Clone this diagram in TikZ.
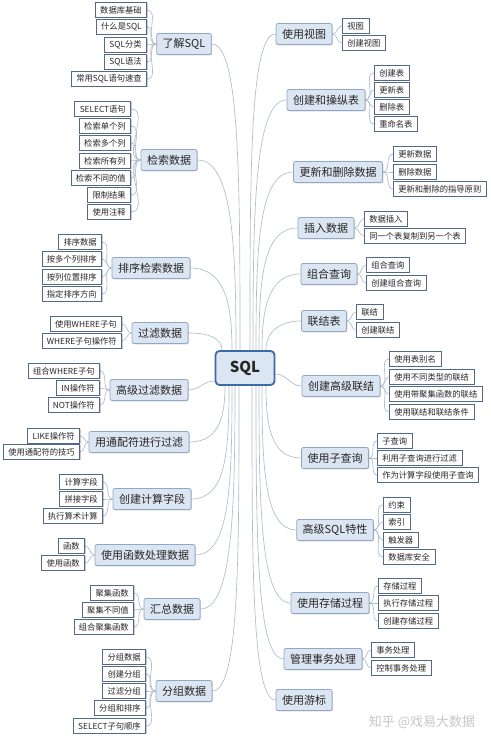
\documentclass[tikz,border=0pt]{standalone}
\usepackage{fontspec}
\setmainfont{Noto Sans CJK SC}
\usetikzlibrary{shadows,backgrounds}
\definecolor{leafdraw}{HTML}{52698A}
\definecolor{mainfill}{HTML}{DCE6F2}
\definecolor{maindraw}{HTML}{8FA8C8}
\definecolor{sqldraw}{HTML}{3D6AA3}
\definecolor{conncol}{HTML}{B0BCCA}
\definecolor{txt}{HTML}{262626}
\tikzset{
  leaf/.style={draw=leafdraw, fill=white, line width=0.6pt, font=\fontsize{8.3}{9}\selectfont,
    text=txt, inner xsep=5pt, inner ysep=0pt, minimum height=15pt,
    drop shadow={shadow xshift=0.8pt, shadow yshift=-0.8pt, opacity=0.2, fill=black}},
  leafL/.style={leaf, anchor=east},
  leafR/.style={leaf, anchor=west},
  mainbox/.style={draw=maindraw, fill=mainfill, line width=0.8pt, rounded corners=2pt,
    font=\fontsize{11}{12}\selectfont, text=txt, inner xsep=6pt, inner ysep=0pt, minimum height=21pt,
    drop shadow={shadow xshift=0.8pt, shadow yshift=-0.8pt, opacity=0.2, fill=black}},
  sqlbox/.style={draw=sqldraw, fill=mainfill, line width=1.8pt, rounded corners=4pt,
    font=\fontsize{15}{16}\selectfont\bfseries, text=txt, minimum width=59pt, minimum height=34pt,
    inner sep=0pt},
  conn/.style={draw=conncol, line width=0.65pt},
  wmark/.style={text=black!22, font=\fontsize{13}{14}\selectfont}
}
\begin{document}
\begin{tikzpicture}[x=1pt,y=1pt]
\useasboundingbox (0,0) rectangle (490,736);

% ---------- central node ----------
\node[sqlbox] (sql) at (245,368) {SQL};

% ---------- left main nodes ----------
\node[mainbox] (a) at (184,692) {了解SQL};
\node[mainbox] (b) at (169,576) {检索数据};
\node[mainbox] (c) at (151,468) {排序检索数据};
\node[mainbox] (d) at (160,403) {过滤数据};
\node[mainbox] (e) at (149,346) {高级过滤数据};
\node[mainbox] (f) at (139,294) {用通配符进行过滤};
\node[mainbox] (g) at (152,237) {创建计算字段};
\node[mainbox] (h) at (145,181) {使用函数处理数据};
\node[mainbox] (i) at (172,127) {汇总数据};
\node[mainbox] (j) at (184,45) {分组数据};

% ---------- right main nodes ----------
\node[mainbox] (k) at (304,702) {使用视图};
\node[mainbox] (l) at (326,636) {创建和操纵表};
\node[mainbox] (m) at (338,564) {更新和删除数据};
\node[mainbox] (n) at (326,508) {插入数据};
\node[mainbox] (o) at (329,462) {组合查询};
\node[mainbox] (p) at (324,415) {联结表};
\node[mainbox] (q) at (341,350) {创建高级联结};
\node[mainbox] (r) at (335,278) {使用子查询};
\node[mainbox] (s) at (335,206) {高级SQL特性};
\node[mainbox] (t) at (330,133) {使用存储过程};
\node[mainbox] (u) at (323,77) {管理事务处理};
\node[mainbox] (v) at (304,36) {使用游标};

% ---------- left leaves ----------
\node[leafL] (a1) at (147,726) {数据库基础};
\node[leafL] (a2) at (147,709) {什么是SQL};
\node[leafL] (a3) at (147,691) {SQL分类};
\node[leafL] (a4) at (147,674) {SQL语法};
\node[leafL] (a5) at (147,657) {常用SQL语句速查};

\node[leafL] (b1) at (131,627) {SELECT语句};
\node[leafL] (b2) at (131,610) {检索单个列};
\node[leafL] (b3) at (131,593) {检索多个列};
\node[leafL] (b4) at (131,575) {检索所有列};
\node[leafL] (b5) at (131,558) {检索不同的值};
\node[leafL] (b6) at (131,541) {限制结果};
\node[leafL] (b7) at (131,524) {使用注释};

\node[leafL] (c1) at (102,494) {排序数据};
\node[leafL] (c2) at (102,477) {按多个列排序};
\node[leafL] (c3) at (102,459) {按列位置排序};
\node[leafL] (c4) at (102,442) {指定排序方向};

\node[leafL] (d1) at (122,412) {使用WHERE子句};
\node[leafL] (d2) at (122,395) {WHERE子句操作符};

\node[leafL] (e1) at (100,365) {组合WHERE子句};
\node[leafL] (e2) at (100,348) {IN操作符};
\node[leafL] (e3) at (100,331) {NOT操作符};

\node[leafL] (f1) at (80,300) {LIKE操作符};
\node[leafL] (f2) at (80,284) {使用通配符的技巧};

\node[leafL] (g1) at (103,254) {计算字段};
\node[leafL] (g2) at (103,237) {拼接字段};
\node[leafL] (g3) at (103,220) {执行算术计算};

\node[leafL] (h1) at (85,190) {函数};
\node[leafL] (h2) at (85,173) {使用函数};

\node[leafL] (i1) at (134,143) {聚集函数};
\node[leafL] (i2) at (134,126) {聚集不同值};
\node[leafL] (i3) at (134,109) {组合聚集函数};

\node[leafL] (j1) at (146,79) {分组数据};
\node[leafL] (j2) at (146,62) {创建分组};
\node[leafL] (j3) at (146,45) {过滤分组};
\node[leafL] (j4) at (146,28) {分组和排序};
\node[leafL] (j5) at (146,10) {SELECT子句顺序};

% ---------- right leaves ----------
\node[leafR] (k1) at (342,710) {视图};
\node[leafR] (k2) at (342,693) {创建视图};

\node[leafR] (l1) at (374,663) {创建表};
\node[leafR] (l2) at (374,646) {更新表};
\node[leafR] (l3) at (374,629) {删除表};
\node[leafR] (l4) at (374,612) {重命名表};

\node[leafR] (m1) at (393,582) {更新数据};
\node[leafR] (m2) at (393,564) {删除数据};
\node[leafR] (m3) at (393,547) {更新和删除的指导原则};

\node[leafR] (n1) at (364,517) {数据插入};
\node[leafR] (n2) at (364,500) {同一个表复制到另一个表};

\node[leafR] (o1) at (366,471) {组合查询};
\node[leafR] (o2) at (366,453) {创建组合查询};

\node[leafR] (p1) at (356,424) {联结};
\node[leafR] (p2) at (356,406) {创建联结};

\node[leafR] (q1) at (389,377) {使用表别名};
\node[leafR] (q2) at (389,359) {使用不同类型的联结};
\node[leafR] (q3) at (389,342) {使用带聚集函数的联结};
\node[leafR] (q4) at (389,324) {使用联结和联结条件};

\node[leafR] (r1) at (377,295) {子查询};
\node[leafR] (r2) at (377,278) {利用子查询进行过滤};
\node[leafR] (r3) at (377,261) {作为计算字段使用子查询};

\node[leafR] (s1) at (383,231) {约束};
\node[leafR] (s2) at (383,214) {索引};
\node[leafR] (s3) at (383,196) {触发器};
\node[leafR] (s4) at (383,179) {数据库安全};

\node[leafR] (t1) at (378,150) {存储过程};
\node[leafR] (t2) at (378,133) {执行存储过程};
\node[leafR] (t3) at (378,115) {创建存储过程};

\node[leafR] (u1) at (371,86) {事务处理};
\node[leafR] (u2) at (371,68) {控制事务处理};

% ---------- watermark ----------
\node[wmark] (wm) at (422,14) {知乎 @戏易大数据};

\begin{scope}[on background layer]
\fill[white] (0,0) rectangle (490,736);
% ---------- connectors: center to main ----------
\draw[conn] ([xshift=-5pt]sql.north) to[out=90,in=0,out distance=170pt,in distance=28pt] (a.east);
\draw[conn] ([xshift=-9pt]sql.north) to[out=90,in=0,out distance=105pt,in distance=35pt] (b.east);
\draw[conn] ([xshift=-13pt]sql.north) to[out=90,in=0,out distance=45pt,in distance=35pt] (c.east);
\draw[conn] ([xshift=-23pt]sql.north) to[out=90,in=0,out distance=12pt,in distance=20pt] (d.east);
\draw[conn] (e.east) to[out=0,in=180] ([yshift=-13pt]sql.west);
\draw[conn] ([xshift=-20pt]sql.south) to[out=-90,in=0,out distance=30pt,in distance=30pt] (f.east);
\draw[conn] ([xshift=-16pt]sql.south) to[out=-90,in=0,out distance=65pt,in distance=35pt] (g.east);
\draw[conn] ([xshift=-13pt]sql.south) to[out=-90,in=0,out distance=95pt,in distance=35pt] (h.east);
\draw[conn] ([xshift=-10pt]sql.south) to[out=-90,in=0,out distance=125pt,in distance=32pt] (i.east);
\draw[conn] ([xshift=-6pt]sql.south) to[out=-90,in=0,out distance=170pt,in distance=27pt] (j.east);

\draw[conn] ([xshift=5pt]sql.north) to[out=90,in=180,out distance=175pt,in distance=26pt] (k.west);
\draw[conn] ([xshift=8pt]sql.north) to[out=90,in=180,out distance=140pt,in distance=32pt] (l.west);
\draw[conn] ([xshift=11pt]sql.north) to[out=90,in=180,out distance=100pt,in distance=35pt] (m.west);
\draw[conn] ([xshift=14pt]sql.north) to[out=90,in=180,out distance=70pt,in distance=35pt] (n.west);
\draw[conn] ([xshift=17pt]sql.north) to[out=90,in=180,out distance=42pt,in distance=32pt] (o.west);
\draw[conn] ([xshift=21pt]sql.north) to[out=90,in=180,out distance=18pt,in distance=22pt] (p.west);
\draw[conn] ([yshift=-6pt]sql.east) to[out=0,in=180] (q.west);
\draw[conn] ([xshift=21pt]sql.south) to[out=-90,in=180,out distance=40pt,in distance=30pt] (r.west);
\draw[conn] ([xshift=17pt]sql.south) to[out=-90,in=180,out distance=80pt,in distance=32pt] (s.west);
\draw[conn] ([xshift=14pt]sql.south) to[out=-90,in=180,out distance=120pt,in distance=30pt] (t.west);
\draw[conn] ([xshift=11pt]sql.south) to[out=-90,in=180,out distance=150pt,in distance=27pt] (u.west);
\draw[conn] ([xshift=7pt]sql.south) to[out=-90,in=180,out distance=175pt,in distance=24pt] (v.west);

% ---------- connectors: main to leaves ----------
\foreach \i in {1,...,5} \draw[conn] (a.west) to[out=180,in=0] (a\i.east);
\foreach \i in {1,...,7} \draw[conn] (b.west) to[out=180,in=0] (b\i.east);
\foreach \i in {1,...,4} \draw[conn] (c.west) to[out=180,in=0] (c\i.east);
\foreach \i in {1,2} \draw[conn] (d.west) to[out=180,in=0] (d\i.east);
\foreach \i in {1,2,3} \draw[conn] (e.west) to[out=180,in=0] (e\i.east);
\foreach \i in {1,2} \draw[conn] (f.west) to[out=180,in=0] (f\i.east);
\foreach \i in {1,2,3} \draw[conn] (g.west) to[out=180,in=0] (g\i.east);
\foreach \i in {1,2} \draw[conn] (h.west) to[out=180,in=0] (h\i.east);
\foreach \i in {1,2,3} \draw[conn] (i.west) to[out=180,in=0] (i\i.east);
\foreach \i in {1,...,5} \draw[conn] (j.west) to[out=180,in=0] (j\i.east);

\foreach \i in {1,2} \draw[conn] (k.east) to[out=0,in=180] (k\i.west);
\foreach \i in {1,...,4} \draw[conn] (l.east) to[out=0,in=180] (l\i.west);
\foreach \i in {1,2,3} \draw[conn] (m.east) to[out=0,in=180] (m\i.west);
\foreach \i in {1,2} \draw[conn] (n.east) to[out=0,in=180] (n\i.west);
\foreach \i in {1,2} \draw[conn] (o.east) to[out=0,in=180] (o\i.west);
\foreach \i in {1,2} \draw[conn] (p.east) to[out=0,in=180] (p\i.west);
\foreach \i in {1,...,4} \draw[conn] (q.east) to[out=0,in=180] (q\i.west);
\foreach \i in {1,2,3} \draw[conn] (r.east) to[out=0,in=180] (r\i.west);
\foreach \i in {1,...,4} \draw[conn] (s.east) to[out=0,in=180] (s\i.west);
\foreach \i in {1,2,3} \draw[conn] (t.east) to[out=0,in=180] (t\i.west);
\foreach \i in {1,2} \draw[conn] (u.east) to[out=0,in=180] (u\i.west);
\end{scope}
\end{tikzpicture}
\end{document}
